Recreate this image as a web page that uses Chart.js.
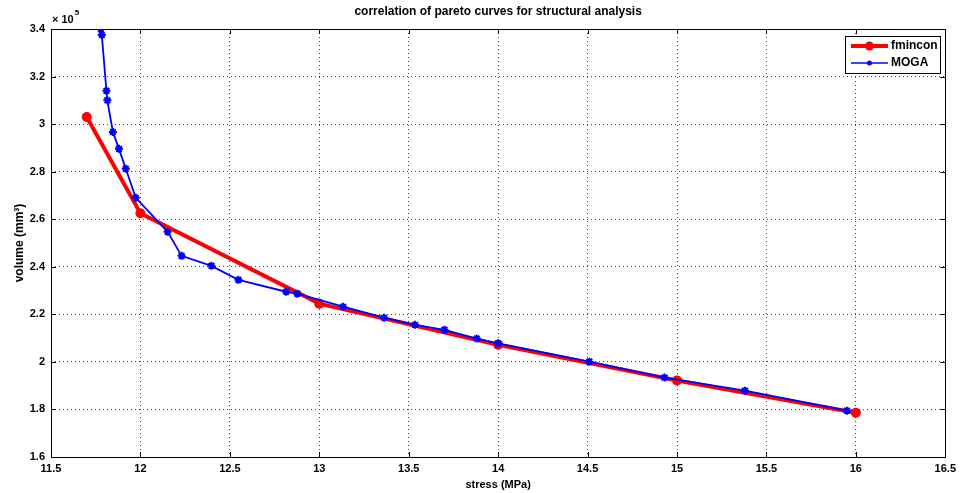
<!DOCTYPE html>
<html>
<head>
<meta charset="utf-8">
<script src="https://cdn.jsdelivr.net/npm/chart.js@4/dist/chart.umd.min.js"></script>
<style>
html,body{margin:0;padding:0;background:#fff;}
#wrap{width:961px;height:493px;position:relative;}
</style>
</head>
<body>
<div id="wrap"><canvas id="c" width="961" height="493"></canvas></div>
<script>
const titleText = 'correlation of pareto curves for structural analysis';
const xTitle = 'stress (MPa)';
const yTitle = 'volume (mm\u00B3)';
const seriesNames = ['fmincon', 'MOGA'];

const fminconStress = [11.70, 12.00, 13.00, 14.00, 15.00, 16.00];
const fminconVolume = [303000, 262500, 224500, 207200, 192200, 178600];

const mogaStress = [11.779, 11.784, 11.810, 11.815, 11.846, 11.880, 11.918, 11.974, 12.152, 12.230, 12.397, 12.548,
                    12.815, 12.877, 13.133, 13.362, 13.535, 13.700, 13.880, 14.000, 14.510, 14.930, 15.380, 15.950];
const mogaVolume = [340000, 337500, 314000, 310000, 296700, 289600, 281200, 269000, 254700, 244600, 240400, 234500,
                    229500, 228700, 223200, 218600, 215600, 213500, 209800, 207800, 200100, 193400, 187900, 179500];

const xTicks = [11.5, 12, 12.5, 13, 13.5, 14, 14.5, 15, 15.5, 16, 16.5];
const yTicks = [160000, 180000, 200000, 220000, 240000, 260000, 280000, 300000, 320000, 340000];
const yExponent = 5;

const FONT = 'Liberation Sans, Arial, Helvetica, sans-serif';

function toPts(xs, ys){ return xs.map((x,i)=>({x:x, y:ys[i]})); }

const boxPlugin = {
  id: 'matlabBox',
  beforeDatasetsDraw(chart){
    const {ctx, chartArea:a, scales} = chart;
    ctx.save();
    ctx.strokeStyle = '#000';
    ctx.lineWidth = 1;
    ctx.setLineDash([]);
    ctx.beginPath();
    xTicks.forEach(v=>{
      const px = Math.round(scales.x.getPixelForValue(v)) + 0.5;
      ctx.moveTo(px, a.bottom); ctx.lineTo(px, a.bottom - 5);
      ctx.moveTo(px, a.top); ctx.lineTo(px, a.top + 5);
    });
    yTicks.forEach(v=>{
      const py = Math.round(scales.y.getPixelForValue(v)) + 0.5;
      ctx.moveTo(a.left, py); ctx.lineTo(a.left + 5, py);
      ctx.moveTo(a.right, py); ctx.lineTo(a.right - 5, py);
    });
    ctx.stroke();
    ctx.strokeRect(Math.round(a.left)+0.5, Math.round(a.top)+0.5, Math.round(a.right-a.left), Math.round(a.bottom-a.top));
    ctx.restore();
  },
  afterDraw(chart){
    const {ctx, chartArea:a} = chart;
    ctx.save();
    ctx.fillStyle = '#000';
    ctx.font = 'bold 12px ' + FONT;
    ctx.textAlign = 'center';
    ctx.textBaseline = 'middle';
    ctx.fillText(titleText, (a.left + a.right)/2, 12);
    ctx.textAlign = 'left';
    ctx.font = 'bold 11px ' + FONT;
    ctx.fillText('\u00D7 10', a.left + 1, 20);
    const w = ctx.measureText('\u00D7 10').width;
    ctx.font = 'bold 8px ' + FONT;
    ctx.fillText(String(yExponent), a.left + 2 + w, 13);
    const lx = 845, ly = 36, lw = 95, lh = 37;
    ctx.fillStyle = '#fff';
    ctx.fillRect(lx, ly, lw, lh);
    ctx.strokeStyle = '#000';
    ctx.lineWidth = 1;
    ctx.strokeRect(lx + 0.5, ly + 0.5, lw, lh);
    ctx.strokeStyle = '#ff0000';
    ctx.lineWidth = 4;
    ctx.beginPath(); ctx.moveTo(851, 46); ctx.lineTo(888, 46); ctx.stroke();
    ctx.fillStyle = '#ff0000';
    ctx.beginPath(); ctx.arc(869.5, 46, 4.5, 0, Math.PI*2); ctx.fill();
    ctx.strokeStyle = '#0000ff';
    ctx.lineWidth = 1.5;
    ctx.beginPath(); ctx.moveTo(851, 63); ctx.lineTo(888, 63); ctx.stroke();
    ctx.fillStyle = '#0000ff';
    ctx.beginPath(); ctx.arc(869.5, 63, 2.5, 0, Math.PI*2); ctx.fill();
    ctx.fillStyle = '#000';
    ctx.font = 'bold 12px ' + FONT;
    ctx.textAlign = 'left';
    ctx.textBaseline = 'middle';
    ctx.fillText(seriesNames[0], 891, 46);
    ctx.fillText(seriesNames[1], 891, 63);
    ctx.restore();
  }
};

new Chart(document.getElementById('c'), {
  type: 'scatter',
  data: {
    datasets: [
      {
        label: seriesNames[0],
        data: toPts(fminconStress, fminconVolume),
        showLine: true,
        borderColor: '#ff0000',
        backgroundColor: '#ff0000',
        borderWidth: 4,
        pointRadius: 5,
        pointStyle: 'circle',
        pointBorderWidth: 0,
        order: 2
      },
      {
        label: seriesNames[1],
        data: toPts(mogaStress, mogaVolume),
        showLine: true,
        borderColor: '#0000ff',
        backgroundColor: '#0000ff',
        borderWidth: 1.8,
        pointRadius: 4,
        pointStyle: 'star',
        pointBorderWidth: 2,
        pointBorderColor: '#0000ff',
        order: 1
      }
    ]
  },
  options: {
    responsive: false,
    animation: false,
    layout: { padding: { top: 29, right: 13, left: 0, bottom: 0 } },
    plugins: { legend: { display: false }, tooltip: { enabled: false }, title: { display: false } },
    scales: {
      x: {
        type: 'linear',
        min: 11.5, max: 16.5,
        afterBuildTicks(scale){ scale.ticks = xTicks.map(v=>({value:v})); },
        afterFit(scale){ scale.height = 36; },
        ticks: {
          color: '#000',
          padding: 5,
          maxRotation: 0,
          font: { family: FONT, size: 11, weight: 'bold' },
          callback: (v)=> String(+v.toFixed(1))
        },
        grid: { drawTicks: false, color: '#444', lineWidth: 1 },
        border: { display: false, dash: [1,3] },
        title: { display: true, text: xTitle, color: '#000', padding: { top: 0, bottom: 1 }, font: { family: FONT, size: 11, weight: 'bold' } }
      },
      y: {
        type: 'linear',
        min: 160000, max: 340000,
        afterBuildTicks(scale){ scale.ticks = yTicks.map(v=>({value:v})); },
        afterFit(scale){ scale.width = 51; },
        ticks: {
          color: '#000',
          padding: 6,
          font: { family: FONT, size: 11, weight: 'bold' },
          callback: (v)=> String(+(v/Math.pow(10,yExponent)).toFixed(1))
        },
        grid: { drawTicks: false, color: '#444', lineWidth: 1 },
        border: { display: false, dash: [1,3] },
        title: { display: true, text: yTitle, color: '#000', padding: { top: 12, bottom: 0 }, font: { family: FONT, size: 12, weight: 'bold' } }
      }
    }
  },
  plugins: [boxPlugin]
});
</script>
</body>
</html>
